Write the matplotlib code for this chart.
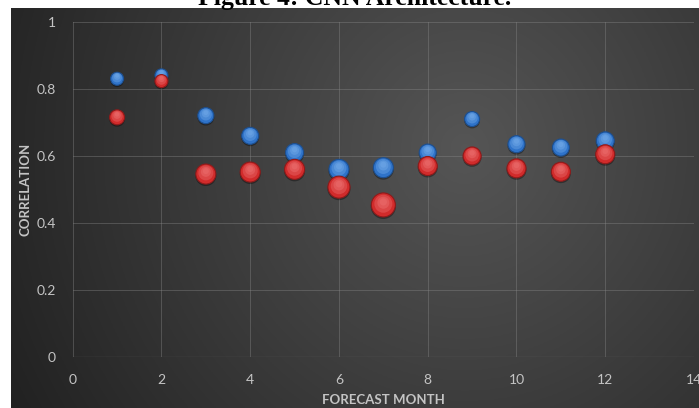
import numpy as np
import matplotlib
matplotlib.use("Agg")
import matplotlib.pyplot as plt
from matplotlib.transforms import offset_copy

# ---- data ----
months = [1, 2, 3, 4, 5, 6, 7, 8, 9, 10, 11, 12]
blue_corr = [0.83, 0.84, 0.72, 0.66, 0.61, 0.56, 0.565, 0.61, 0.71, 0.635, 0.625, 0.645]
red_corr = [0.715, 0.823, 0.546, 0.552, 0.56, 0.507, 0.454, 0.57, 0.60, 0.563, 0.553, 0.605]
# bubble size values (relative, diameter-like)
blue_bubble = [13, 13, 16, 17, 18, 20, 20, 17, 15, 17, 17, 18]
red_bubble = [15, 13, 20, 20, 20, 22, 24, 19, 18, 19, 19, 19]
x_ticks = [0, 2, 4, 6, 8, 10, 12, 14]
y_ticks = [0, 0.2, 0.4, 0.6, 0.8, 1]
y_ticklabels = ["0", "0.2", "0.4", "0.6", "0.8", "1"]

W, H = 699, 408
fig = plt.figure(figsize=(W / 100, H / 100), dpi=100)
fig.patch.set_facecolor("white")

# background gradient panel
bg = fig.add_axes([11 / W, 0, 1 - 11 / W, 1 - 8 / H])
bg.set_axis_off()
ny, nx = 200, 350
yy, xx = np.mgrid[0:1:ny * 1j, 0:1:nx * 1j]
d = np.sqrt(((xx - 0.66) / 1.0) ** 2 + ((yy - 0.35) / 1.8) ** 2)
val = 0.335 - 0.19 * np.clip(d / 0.7, 0, 1.1)
img = np.dstack([val, val, val])
img = np.clip(img, 0, 1)
bg.imshow(img, aspect="auto", extent=[0, 1, 1, 0])

ax = fig.add_axes([72.7 / W, 1 - 357.3 / H, (694 - 72.7) / W, (357.3 - 21.7) / H])
ax.set_facecolor("none")
ax.set_xlim(0, 14)
ax.set_ylim(0, 1)
ax.set_xticks(x_ticks)
ax.set_yticks(y_ticks)
ax.set_yticklabels(y_ticklabels)
ax.grid(True, color="#8a8a8a", linewidth=0.6, alpha=0.45)
ax.set_axisbelow(True)
for s in ax.spines.values():
    s.set_visible(False)
ax.axhline(0, color="#8a8a8a", linewidth=0.8, zorder=1)
ax.tick_params(length=0, colors="#c4c4c4", labelsize=10, pad=12)
for lab in ax.get_xticklabels() + ax.get_yticklabels():
    lab.set_fontfamily("Lato")
ax.set_xlabel("FORECAST MONTH", fontfamily="Lato", fontweight="bold",
              fontsize=9.5, color="#c4c4c4", labelpad=6)
ax.set_ylabel("CORRELATION", fontfamily="Lato", fontweight="bold",
              fontsize=9.5, color="#c4c4c4", labelpad=4)


def bubbles(y, sz, base, edge, light, z):
    sz = np.asarray(sz, float)
    s = (0.72 * sz) ** 2
    sh = offset_copy(ax.transData, fig=fig, x=0, y=-1.5, units="dots")
    ax.scatter(months, y, s=s * 1.1, color="black", alpha=0.35, lw=0,
               transform=sh, zorder=z)
    ax.scatter(months, y, s=s, color=base, edgecolors=edge, linewidths=0.8,
               zorder=z + 0.1)
    for k, (f, dy, a) in enumerate([(0.75, 1.2, 0.35), (0.5, 2.2, 0.35), (0.3, 3.0, 0.3)]):
        tr = offset_copy(ax.transData, fig=fig, x=0, y=dy, units="dots")
        ax.scatter(months, y, s=s * f ** 2, color=light, alpha=a, lw=0,
                   transform=tr, zorder=z + 0.2 + k * 0.01)


bubbles(blue_corr, blue_bubble, "#2f73c9", "#1d4f8f", "#7db3ee", 3)
bubbles(red_corr, red_bubble, "#d12b2b", "#8f1a1a", "#f07a7a", 4)

fig.text(0.508, 1 - 5 / H, "Figure 4: CNN Architecture.", ha="center", va="baseline",
         fontfamily="Liberation Serif", fontweight="bold", fontsize=18.5, color="black")

fig.savefig("out.png", dpi=100)
